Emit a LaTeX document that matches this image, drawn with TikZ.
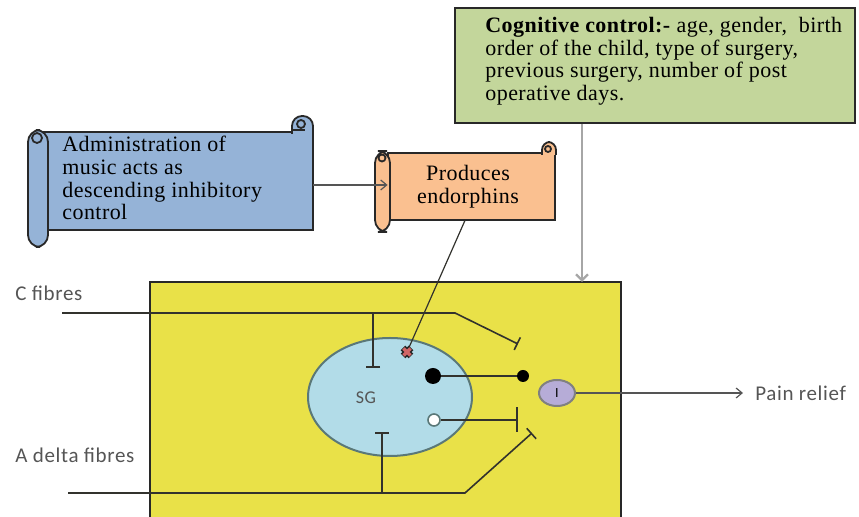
\documentclass[tikz,border=0pt]{standalone}
\usepackage{fontspec}
\setmainfont{Liberation Serif}
\newfontfamily\boxfont[LetterSpace=2]{Liberation Serif}
\newfontfamily\fibrefont[LetterSpace=3]{Carlito}
\usetikzlibrary{shapes.geometric,arrows.meta}
\definecolor{musicblue}{RGB}{149,179,215}
\definecolor{endoorange}{RGB}{250,192,144}
\definecolor{coggreen}{RGB}{195,214,155}
\definecolor{hornyellow}{RGB}{233,225,72}
\definecolor{sgblue}{RGB}{178,220,232}
\definecolor{sgedge}{RGB}{90,120,120}
\definecolor{interlilac}{RGB}{182,172,215}
\definecolor{outline}{RGB}{40,40,40}
\definecolor{labelgray}{RGB}{85,85,85}
\definecolor{nervegray}{RGB}{50,50,45}
\tikzset{
  scroll/.style={draw=outline, line width=0.9pt},
  boxtext/.style={font=\boxfont\fontsize{11}{11.3}\selectfont, align=left, inner sep=0, anchor=north west},
  fibretext/.style={font=\fibrefont\fontsize{10.5}{12}\selectfont, text=labelgray, inner sep=0, anchor=west},
  nerve/.style={draw=nervegray, line width=0.8pt},
  inhib/.style={nerve, -{Bar[width=7pt, line width=0.8pt]}},
  flow/.style={draw=labelgray, line width=0.6pt, -{Straight Barb[length=3pt, width=5pt]}}
}
\begin{document}
\begin{tikzpicture}[x=0.5pt, y=-0.5pt]
  \useasboundingbox (0,0) rectangle (859,517);

  % cognitive control box
  \node[draw=outline, fill=coggreen, line width=1pt, minimum width=200pt, minimum height=57.5pt, inner sep=0] (cog) at (655,65.5) {};
  \node[boxtext] (cogtext) at (485,17) {\textbf{Cognitive control:-} age, gender,\ \ birth\\order of the child, type of surgery,\\previous surgery, number of post\\operative days.};

  % music scroll
  \filldraw[scroll, fill=musicblue] (40,132) rectangle (313,230);
  \filldraw[scroll, fill=musicblue, rounded corners=5pt] (292,134) -- (292,116) -- (313,116) -- (313,134);
    \draw[scroll] (301,124) circle (4);
    \draw[scroll] (292,130) -- (305,130);
  \filldraw[scroll, fill=musicblue, rounded corners=6pt] (28,130) rectangle (48,247);
    \draw[scroll] (37,138) circle (5);
  \node[minimum width=136.5pt, minimum height=49pt, inner sep=0] (music) at (176.5,181) {};
  \node[boxtext] (musictext) at (62,136) {Administration of\\music acts as\\descending inhibitory\\control};

  % endorphin scroll
  \filldraw[scroll, fill=endoorange] (388,153) rectangle (555,220);
  \filldraw[scroll, fill=endoorange, rounded corners=4pt] (542,155) -- (542,142) -- (556,142) -- (556,155);
    \draw[scroll] (548,149) circle (3);
  \filldraw[scroll, fill=endoorange, rounded corners=6pt] (375,151) rectangle (390,232);
    \draw[scroll] (382,158) circle (3.5);
  \node[minimum width=83.5pt, minimum height=33.5pt, inner sep=0] (endo) at (471.5,186.5) {};
  \node[font=\boxfont\fontsize{11}{11.3}\selectfont, align=center, inner sep=0] (endotext) at (468,187) {Produces\\endorphins};

  \draw[flow] (music.east |- 0,185) -- (endo.west |- 0,185);

  % dorsal horn
  \node[draw=outline, fill=hornyellow, line width=1pt, minimum width=235.5pt, minimum height=120pt, inner sep=0] (horn) at (385.5,402) {};
  \coordinate (gate) at (582,282);
  \draw[draw=gray!70, line width=1.2pt, -{Straight Barb[length=3pt, width=6pt]}] (cog.south -| gate) -- (gate);

  \node[ellipse, draw=sgedge, fill=sgblue, line width=1pt, minimum width=82pt, minimum height=59pt, inner sep=0] (sg) at (390,397) {};
  \node[font=\fibrefont\fontsize{9}{10}\selectfont, text=labelgray, inner sep=0] (sgtext) at (366,398) {SG};

  % fibres
  \node[fibretext] (cfib) at (15,293) {C fibres};
  \node[fibretext] (afib) at (15,455) {A delta fibres};
  \coordinate (cin) at (62,313);
  \coordinate (cbend) at (455,313);
  \coordinate (cend) at (518,344);
  \coordinate (ctap) at (373,313);
  \coordinate (cstop) at (373,368);
  \draw[inhib] (cin) -- (cbend) -- (cend);
  \draw[inhib] (ctap) -- (cstop);
  \coordinate (ain) at (68,493);
  \coordinate (abend) at (465,493);
  \coordinate (aend) at (532,433);
  \coordinate (atap) at (382,493);
  \coordinate (astop) at (382,432);
  \draw[inhib] (ain) -- (abend) -- (aend);
  \draw[inhib] (atap) -- (astop);

  % interneurons
  \node[circle, fill=black, minimum size=8pt, inner sep=0] (bdotin) at (433,376) {};
  \node[circle, fill=black, minimum size=6pt, inner sep=0] (bdotout) at (523,376) {};
  \draw[nerve] (bdotin) -- (bdotout);
  \node[circle, draw=sgedge, fill=white, line width=0.8pt, minimum size=6pt, inner sep=0] (wdot) at (434,420) {};
  \coordinate (wstop) at (518,420);
  \draw[nerve, -{Bar[width=12.5pt, line width=0.8pt]}] (wdot) -- (wstop);

  % block by endorphins
  \coordinate (block) at (407,352);
  \draw[nerve, line width=0.6pt] (endo.south -| 465,0) -- (block);
  \draw[outline, line width=3.2pt] (403,348) -- (411,356) (403,356) -- (411,348);
  \draw[red!70!black!60!white, line width=1.6pt] (403.5,348.5) -- (410.5,355.5) (403.5,355.5) -- (410.5,348.5);

  % transmission cell
  \node[ellipse, draw=gray, fill=interlilac, line width=1pt, minimum width=18pt, minimum height=13pt, inner sep=0, font=\fibrefont\fontsize{7}{8}\selectfont] (inter) at (557,393) {I};
  \node[fibretext] (relief) at (755,393) {Pain relief};
  \draw[flow, shorten >=6pt] (inter) -- (relief);
\end{tikzpicture}
\end{document}
